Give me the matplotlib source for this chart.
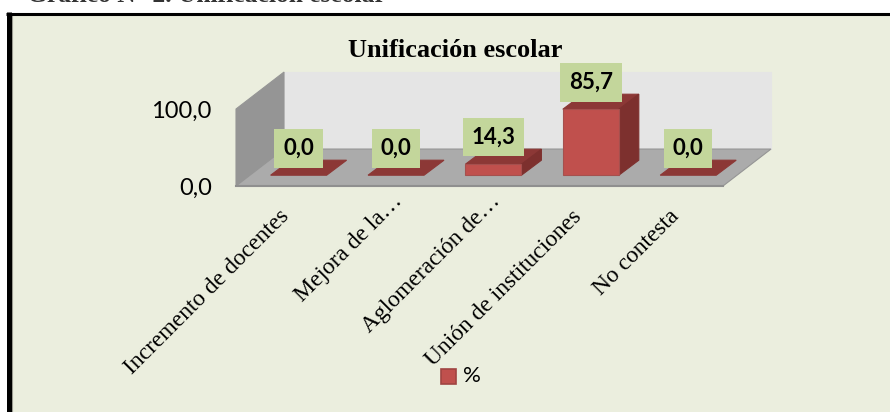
import matplotlib
matplotlib.use("Agg")
import matplotlib.pyplot as plt
from matplotlib.patches import Polygon, Rectangle
from matplotlib.transforms import ScaledTranslation

categories = ["Incremento de docentes", "Mejora de la…", "Aglomeración de…",
              "Unión de instituciones", "No contesta"]
values = [0.0, 0.0, 14.3, 85.7, 0.0]
y_ticks = [0, 100]
y_tick_labels = ["0,0", "100,0"]
chart_title = "Unificación escolar"
header = "Gráfico N° 2. Unificación escolar"
series_name = "%"

W, H = 890, 412
BG = "#EBEEDE"
DX, DY = 0.493, 48.0     # depth of the floor, in data units
BAR_W = 0.575


def poly(ax, pts, color, edge=None, z=1):
    ax.add_patch(Polygon(pts, closed=True, facecolor=color, edgecolor=edge or color,
                         linewidth=0.8, zorder=z, clip_on=False))


def bar3d(ax, x, val, z=3):
    # box sits part way into the floor
    fx, fy = 0.143, 14.0
    x0, x1 = x - BAR_W / 2 + fx, x + BAR_W / 2 + fx
    y0, y1 = fy, fy + val
    ddx, ddy = 0.205, 19.5
    poly(ax, [(x0, y1), (x1, y1), (x1 + ddx, y1 + ddy), (x0 + ddx, y1 + ddy)], "#8C3836", z=z)
    if val > 0:
        poly(ax, [(x1, y0), (x1 + ddx, y0 + ddy), (x1 + ddx, y1 + ddy), (x1, y1)], "#7D302E", z=z)
        poly(ax, [(x0, y0), (x1, y0), (x1, y1), (x0, y1)], "#C0504D", edge="#A5504E", z=z)
    ax.annotate(f"{val:.1f}".replace(".", ","), (x + fx, y1 + ddy), xytext=(0, 8.7),
                textcoords="offset points", ha="center", va="center", family="Lato",
                fontweight="bold", fontsize=16, color="black", zorder=6, annotation_clip=False,
                bbox=dict(boxstyle="square,pad=0.4", facecolor="#C3D69B", edgecolor="none"))


fig = plt.figure(figsize=(W / 100, H / 100), dpi=100, facecolor="white")

# full-figure layer for the frame and the clipped header line
bg = fig.add_axes([0, 0, 1, 1])
bg.set_xlim(0, W)
bg.set_ylim(H, 0)
bg.axis("off")
bg.add_patch(Rectangle((8.5, 13.5), W, H, facecolor=BG, edgecolor="none"))
bg.plot([11.6, 11.6], [15, H], color="#9A9A90", lw=0.8, solid_capstyle="butt")
bg.plot([8.5, 8.5], [12, H], color="black", lw=3.6, solid_capstyle="butt")
bg.plot([6, W], [13.5, 13.5], color="black", lw=2.2, solid_capstyle="butt")
bg.text(27, 2, header, family="Liberation Serif", fontweight="bold", fontsize=18.4,
        color="#333333", ha="left", va="baseline", clip_on=True)
bg.text(455.5, 50, chart_title, family="Liberation Serif", fontweight="bold", fontsize=19,
        ha="center", va="center")

ax = fig.add_axes([236 / W, 1 - 186 / H, 487 / W, 77 / H])
ax.set_xlim(0, len(categories))
ax.set_ylim(0, 100)
ax.patch.set_alpha(0)
for s in ax.spines.values():
    s.set_visible(False)

n = len(categories)
poly(ax, [(DX, DY), (n + DX, DY), (n + DX, 100 + DY), (DX, 100 + DY)], "#E5E5E5", z=1)
poly(ax, [(0, 0), (DX, DY), (DX, 100 + DY), (0, 100)], "#959595", z=1)
poly(ax, [(0, 0), (n, 0), (n + DX, DY), (DX, DY)], "#ABABAB", edge="#959595", z=2)
ax.plot([0, n], [0, 0], color="#8F8F8F", lw=1.5, zorder=2, clip_on=False)

for i, v in enumerate(values):
    bar3d(ax, i + 0.5, v, z=3 + i * 0.01)

ax.set_yticks(y_ticks)
ax.set_yticklabels(y_tick_labels, family="Lato", fontsize=17)
ax.set_xticks([i + 0.5 for i in range(n)])
ax.set_xticklabels(categories, family="Liberation Serif", fontsize=16.9, rotation=45,
                   ha="right", rotation_mode="anchor")
ax.tick_params(axis="both", length=0)
ax.tick_params(axis="y", pad=17.5)
ax.tick_params(axis="x", pad=14.5)
for lab in ax.get_xticklabels():
    # the shortened labels sit further up the diagonal than the others
    if lab.get_text().endswith("…"):
        shift = ScaledTranslation(10 / 100, 16 / 100, fig.dpi_scale_trans)
    else:
        shift = ScaledTranslation(-6 / 100, 0, fig.dpi_scale_trans)
    lab.set_transform(lab.get_transform() + shift)

# legend
bg.add_patch(Rectangle((441, 369), 15, 15, facecolor="#C0504D", edgecolor="#A04442", linewidth=1.2))
bg.text(463, 376, series_name, family="Lato", fontsize=16, ha="left", va="center")

fig.savefig("out.png", dpi=100, facecolor="white")
